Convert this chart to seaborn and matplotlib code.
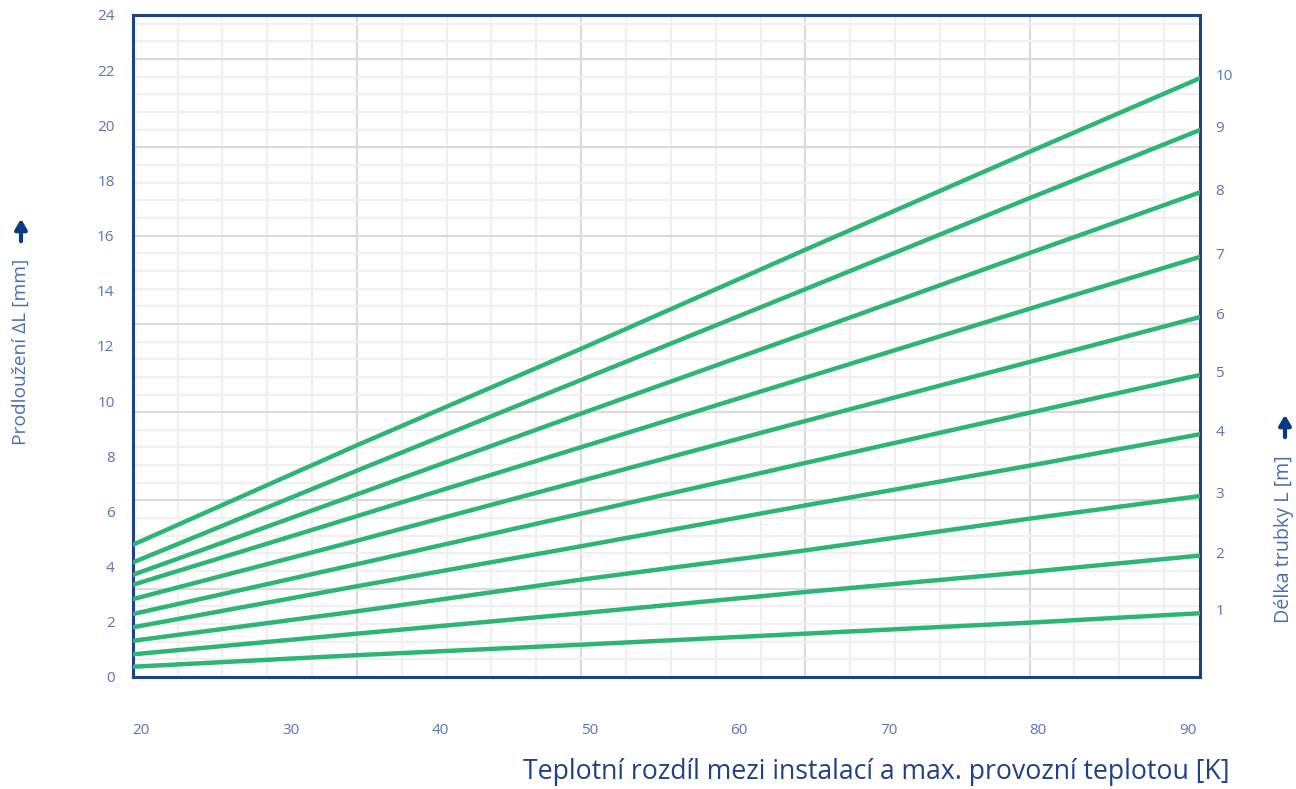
import numpy as np
import pandas as pd
import matplotlib
matplotlib.use("Agg")
import matplotlib.pyplot as plt
import seaborn as sns

sns.set_style("white")
plt.rcParams["font.family"] = ["Open Sans", "DejaVu Sans"]

# temperature difference [K] where values were read
delta_t = [20, 35, 50, 65, 80, 91.4]
# pipe length [m]
lengths = [1, 2, 3, 4, 5, 6, 7, 8, 9, 10]
# elongation [mm] for each pipe length
elong = {
    1: [0.37, 0.79, 1.17, 1.57, 1.97, 2.31],
    2: [0.82, 1.57, 2.31, 3.08, 3.81, 4.40],
    3: [1.31, 2.38, 3.53, 4.59, 5.74, 6.56],
    4: [1.80, 3.29, 4.74, 6.22, 7.66, 8.80],
    5: [2.28, 4.09, 5.92, 7.76, 9.58, 10.95],
    6: [2.82, 4.94, 7.11, 9.28, 11.42, 13.05],
    7: [3.34, 5.83, 8.33, 10.85, 13.35, 15.23],
    8: [3.70, 6.62, 9.55, 12.45, 15.37, 17.57],
    9: [4.15, 7.48, 10.77, 14.06, 17.36, 19.83],
    10: [4.79, 8.40, 11.90, 15.49, 19.04, 21.71],
}
x_ticks = [20, 30, 40, 50, 60, 70, 80, 90]
y_ticks = [0, 2, 4, 6, 8, 10, 12, 14, 16, 18, 20, 22, 24]

GREEN = "#2db673"
NAVY = "#1f4287"
TICK = "#5677b1"
LABEL = "#4a6fae"
ARROW = "#0b3a82"

rows = []
for L in lengths:
    for t, v in zip(delta_t, elong[L]):
        rows.append({"dT": t, "dL": v, "L": L})
df = pd.DataFrame(rows)

fig = plt.figure(figsize=(12.96, 7.89), dpi=100)
ax = fig.add_axes([0.1024, 0.142, 0.8235, 0.839])
xmin, xmax = 20, 91.4
ymin, ymax = 0, 24

# graph paper grid
for gx in np.arange(xmin, xmax, 3.0):
    major = abs((gx - xmin) % 15) < 1e-6
    ax.axvline(gx, color="#dcdcdc" if major else "#f0f0f0", lw=1.6, zorder=0)
for gy in np.arange(0.64, ymax, 0.64):
    major = abs(round(gy / 0.64) % 5) == 0
    ax.axhline(gy, color="#dcdcdc" if major else "#f0f0f0", lw=1.6, zorder=0)

sns.lineplot(data=df, x="dT", y="dL", hue="L", palette=[GREEN] * len(lengths),
             lw=3.2, legend=False, ax=ax, zorder=3)

ax.set_xlim(xmin, xmax)
ax.set_ylim(ymin, ymax)
ax.set_xticks(x_ticks)
ax.set_xticklabels([str(v) for v in x_ticks], ha="left")
ax.set_yticks(y_ticks)
ax.tick_params(axis="x", length=0, pad=33, labelsize=11, labelcolor=TICK)
ax.tick_params(axis="y", length=0, pad=13, labelsize=11, labelcolor=TICK)
ax.set_xlabel("")
ax.set_ylabel("")
for s in ax.spines.values():
    s.set_color(NAVY)
    s.set_linewidth(2.2)

ax2 = ax.twinx()
ax2.set_ylim(ymin, ymax)
ax2.set_yticks([elong[L][-1] + 0.12 for L in lengths])
ax2.set_yticklabels([str(L) for L in lengths])
ax2.tick_params(axis="y", length=0, pad=11, labelsize=11, labelcolor=TICK)
for s in ax2.spines.values():
    s.set_visible(False)

fig.text(0.676, 0.021, "Teplotní rozdíl mezi instalací a max. provozní teplotou [K]",
         ha="center", va="center", fontsize=19.2, color=NAVY)
fig.text(0.016, 0.5545, "Prodloužení ΔL [mm]", rotation=90, ha="center",
         va="center", fontsize=13.8, color=LABEL)
fig.text(0.9905, 0.317, "Délka trubky L [m]", rotation=90, ha="center",
         va="center", fontsize=14.2, color=LABEL)

# arrows next to axis titles
ax.annotate("", xy=(21, 789 - 216), xytext=(21, 789 - 244), xycoords="figure pixels",
            arrowprops=dict(arrowstyle="-|>,head_width=0.35,head_length=0.6",
                            lw=3, color=ARROW))
ax.annotate("", xy=(1285, 789 - 412), xytext=(1285, 789 - 440), xycoords="figure pixels",
            arrowprops=dict(arrowstyle="-|>,head_width=0.35,head_length=0.6",
                            lw=3, color=ARROW))

fig.savefig("out.png", dpi=100)
